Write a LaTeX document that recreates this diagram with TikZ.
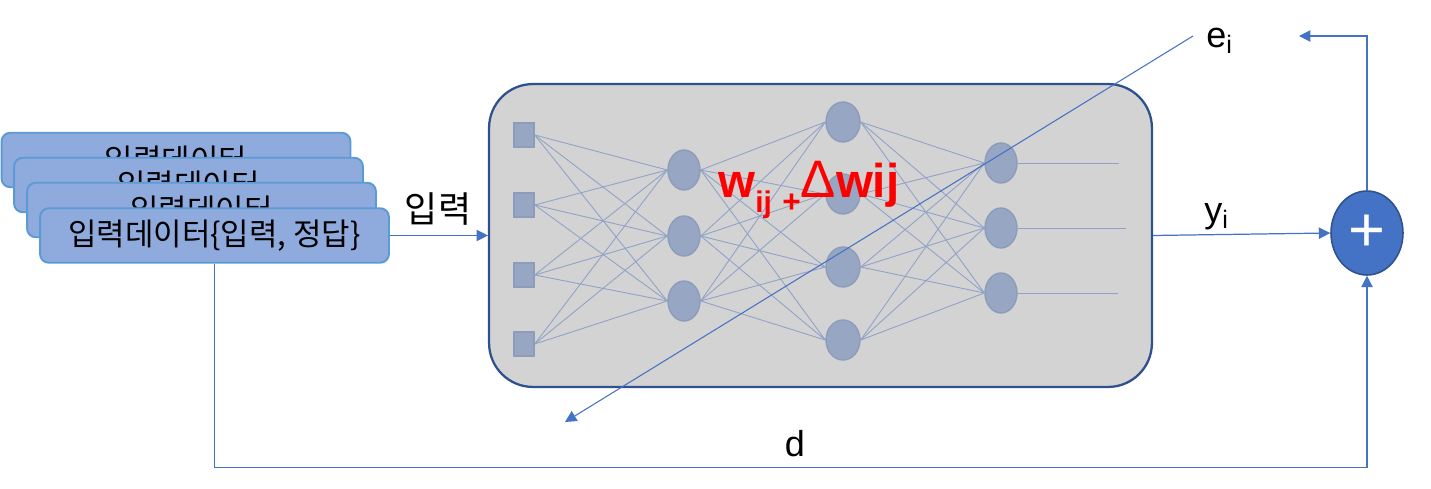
\documentclass[tikz,border=0pt]{standalone}
\usepackage{fontspec}
\setmainfont{Liberation Sans}
\newfontfamily\kor{Noto Sans CJK KR}
\usepackage{tikz}
\usetikzlibrary{shapes.geometric,arrows.meta,positioning}

\definecolor{boxfill}{HTML}{8FAADC}
\definecolor{boxline}{HTML}{5B9BD5}
\definecolor{netfill}{HTML}{D3D3D3}
\definecolor{netline}{HTML}{2F528F}
\definecolor{neuron}{HTML}{97A6C3}
\definecolor{neuronline}{HTML}{8C9CBA}
\definecolor{wirecol}{HTML}{8FA2C8}
\definecolor{flow}{HTML}{4472C4}

\begin{document}
\begin{tikzpicture}[
        x=0.02cm, y=-0.02cm,
        databox/.style={rectangle, draw=boxline, line width=1.1pt, fill=boxfill, rounded corners=5pt, minimum width=6.98cm, minimum height=1.09cm, inner sep=0pt, font=\kor\fontsize{17.6}{19}\selectfont},
        netbox/.style={rectangle, draw=netline, line width=1.3pt, fill=netfill, rounded corners=25pt, minimum width=13.26cm, minimum height=6.06cm},
        inunit/.style={rectangle, draw=neuronline, line width=0.8pt, fill=neuron, minimum width=0.4cm, minimum height=0.48cm, inner sep=0pt},
        unit/.style={ellipse, draw=neuronline, line width=0.8pt, fill=neuron, minimum width=0.64cm, minimum height=0.8cm, inner sep=0pt},
        wire/.style={draw=wirecol, line width=0.5pt},
        flowarrow/.style={draw=flow, line width=0.7pt, -{Triangle[length=6.5pt, width=6.5pt]}},
        lbl/.style={inner sep=0pt, font=\fontsize{20.5}{22}\selectfont},
        sumnode/.style={ellipse, draw=netline, line width=0.9pt, fill=flow, minimum width=1.44cm, minimum height=1.68cm, inner sep=0pt, text=white, font=\fontsize{36}{36}\selectfont}
        ]
        \useasboundingbox (0,0) rectangle (1431,489);

        % Stacked training data
        \node[databox] (data1) at (176,160) {입력데이터};
        \node[databox] (data2) at (188.5,185) {입력데이터};
        \node[databox] (data3) at (201.5,210) {입력데이터};
        \node[databox] (data4) at (214.5,235.5) {입력데이터\{입력, 정답\}};

        % Network container
        \node[netbox] (net) at (820.5,235.5) {};

        % Layers
        \foreach \i/\y in {1/135,2/205,3/275,4/344}
            \node[inunit] (in\i) at (524,\y) {};
        \foreach \i/\y in {1/170,2/236,3/301}
            \node[unit] (ha\i) at (684,\y) {};
        \foreach \i/\y in {1/122,2/194,3/267,4/340}
            \node[unit, minimum width=0.68cm] (hb\i) at (843,\y) {};
        \foreach \i/\y in {1/163,2/228,3/293}
            \node[unit] (out\i) at (1001,\y) {};

        % Weights
        \foreach \i in {1,...,4}
            \foreach \j in {1,2,3}
                \draw[wire] (in\i.east) -- (ha\j.west);
        \foreach \i in {1,2,3}
            \foreach \j in {1,...,4}
                \draw[wire] (ha\i.east) -- (hb\j.west);
        \foreach \i in {1,...,4}
            \foreach \j in {1,2,3}
                \draw[wire] (hb\i.east) -- (out\j.west);
        \coordinate (yend1) at (1119,163);
        \coordinate (yend2) at (1126,228);
        \coordinate (yend3) at (1118,293);
        \foreach \j in {1,2,3}
            \draw[wire] (out\j.east) -- (yend\j);

        % Weight update
        \node[anchor=base west, inner sep=0pt, text=red, font=\fontsize{27}{27}\selectfont] (wupd) at (718,198)
            {\bfseries w\raisebox{-0.3em}{\fontsize{17}{17}\selectfont ij}\hspace{6pt}\raisebox{-0.3em}{\fontsize{18}{18}\selectfont +}\mdseries{\fontsize{30}{30}\selectfont Δ}\bfseries wij};

        % Sum node
        \node[sumnode] (sum) at (1367,233) {+};

        % Labels
        \node[lbl, font=\kor\fontsize{20.5}{22}\selectfont] (inlbl) at (438,209) {입력};
        \node[lbl, anchor=base west] (ylbl) at (1204,223) {y\textsubscript{i}};
        \node[lbl, anchor=base west] (elbl) at (1206,48) {e\textsubscript{i}};
        \node[lbl, anchor=base] (dlbl) at (795,457) {d};

        % Connections
        \draw[flowarrow] (data4.east) -- (net.west);
        \draw[flowarrow] (net.east) -- (sum.west);
        \coordinate (errout) at (1299,36);
        \draw[flowarrow] (sum.north) |- (errout);
        \draw[flowarrow] (data4.south) -- ++(0,204) -| (sum.south);
        \coordinate (errstart) at (1193,36);
        \coordinate (errtip) at (565,422);
        \draw[flowarrow, line width=0.6pt] (errstart) -- (errtip);

    \end{tikzpicture}
\end{document}
